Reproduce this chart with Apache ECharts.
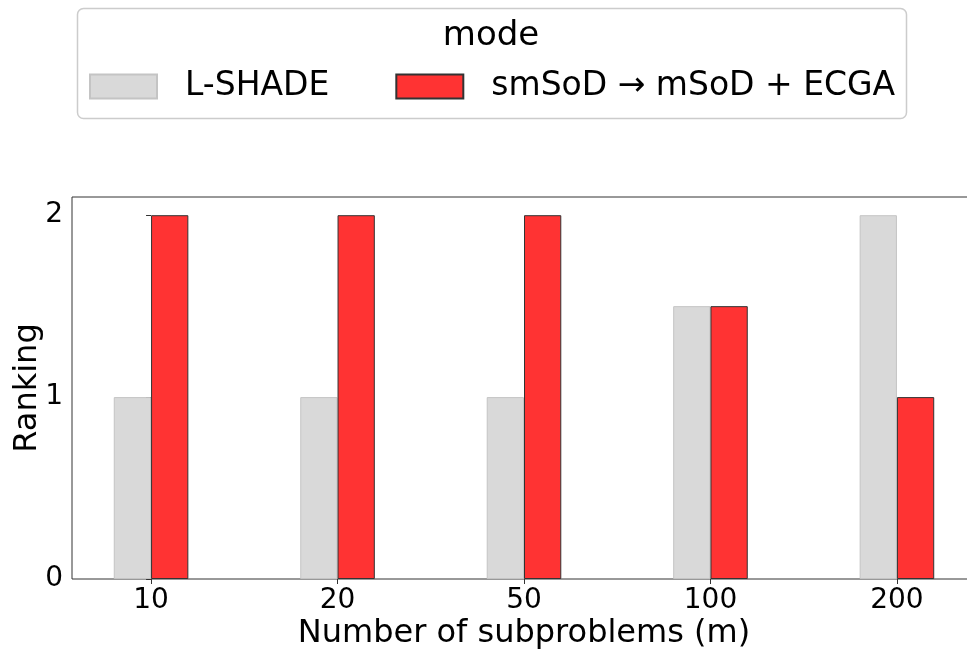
<!DOCTYPE html>
<html>
<head>
<meta charset="utf-8">
<script src="https://cdn.jsdelivr.net/npm/echarts@6/dist/echarts.min.js"></script>
<style>
  html, body { margin: 0; padding: 0; background: #fff; }
  #charts { width: 967px; height: 653px; }
</style>
</head>
<body>
<div id="charts"></div>
<script>
const categories = ['10', '20', '50', '100', '200'];
const lshade = [1, 1, 1, 1.5, 2];
const ecga = [2, 2, 2, 1.5, 1];
const yTicks = [0, 1, 2];
const seriesNames = ['L-SHADE', 'smSoD → mSoD + ECGA'];

const font = 'DejaVu Sans';
const positions = categories.map((c, i) => i);

const myChart = echarts.init(document.getElementById('charts'));

const option = {
  animation: false,
  backgroundColor: '#fff',
  title: {
    text: 'mode',
    left: 491,
    top: 19,
    textAlign: 'center',
    padding: 0,
    textStyle: { fontFamily: font, fontSize: 34, fontWeight: 'normal', color: '#000' }
  },
  graphic: [{
    type: 'rect',
    shape: { x: 77.5, y: 8.5, width: 829, height: 110, r: 6 },
    style: { fill: 'none', stroke: '#cccccc', lineWidth: 1.5 },
    z: -1
  }],
  legend: {
    left: 89,
    top: 70,
    padding: 0,
    itemWidth: 67,
    itemHeight: 24,
    itemGap: 66,
    icon: 'rect',
    data: seriesNames,
    textStyle: {
      fontFamily: font,
      fontSize: 33,
      color: '#000',
      padding: [0, 0, 0, 23]
    }
  },
  grid: {
    left: 72,
    top: 197,
    right: -9,
    bottom: 74,
    outerBoundsMode: 'none',
    containLabel: false,
    show: true,
    borderColor: '#333',
    borderWidth: 1,
    backgroundColor: 'transparent'
  },
  xAxis: {
    type: 'value',
    min: -0.424,
    max: 4.424,
    name: 'Number of subproblems (m)',
    nameLocation: 'middle',
    nameGap: 39,
    nameMoveOverlap: false,
    nameTextStyle: { fontFamily: font, fontSize: 32, color: '#000' },
    axisLine: { show: false },
    splitLine: { show: false },
    axisTick: { show: true, length: 5, customValues: positions, lineStyle: { color: '#333' } },
    axisLabel: {
      customValues: positions,
      formatter: v => categories[Math.round(v)],
      margin: 8,
      fontFamily: font,
      fontSize: 28,
      color: '#000'
    }
  },
  yAxis: {
    type: 'value',
    min: 0,
    max: 2.1,
    name: 'Ranking',
    nameLocation: 'middle',
    nameGap: 28,
    nameMoveOverlap: false,
    nameTextStyle: { fontFamily: font, fontSize: 32, color: '#000' },
    axisLine: { show: false },
    splitLine: { show: false },
    axisTick: { show: true, length: 5, customValues: yTicks, lineStyle: { color: '#333' } },
    axisLabel: {
      customValues: yTicks,
      margin: 9,
      fontFamily: font,
      fontSize: 28,
      color: '#000'
    }
  },
  series: [
    {
      name: seriesNames[0],
      type: 'bar',
      barWidth: '20%',
      barGap: '0%',
      data: lshade.map((v, i) => [positions[i], v]),
      itemStyle: { color: '#d9d9d9', borderColor: '#c4c4c4', borderWidth: 1 }
    },
    {
      name: seriesNames[1],
      type: 'bar',
      barWidth: '20%',
      barGap: '0%',
      data: ecga.map((v, i) => [positions[i], v]),
      itemStyle: { color: '#ff3333', borderColor: '#333333', borderWidth: 1 }
    }
  ]
};

myChart.setOption(option);
</script>
</body>
</html>
